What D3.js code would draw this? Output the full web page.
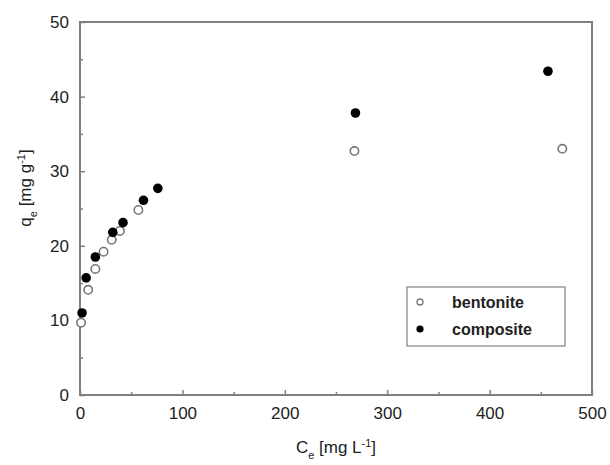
<!DOCTYPE html>
<html>
<head>
<meta charset="utf-8">
<script src="https://cdn.jsdelivr.net/npm/d3@7"></script>
<style>
  body { margin: 0; background: #fff; }
  text { font-family: "Liberation Sans", Arial, sans-serif; fill: #222; }
</style>
</head>
<body>
<svg id="chart"></svg>
<script>
// isotherm data
let bentoniteCe = [1, 8, 15, 23, 31, 39, 57, 268, 471];
let bentoniteQe = [9.7, 14.1, 16.9, 19.2, 20.8, 22.0, 24.8, 32.7, 33.0];
let compositeCe = [2, 6, 15, 32, 42, 62, 76, 269, 457];
let compositeQe = [11.0, 15.7, 18.5, 21.8, 23.1, 26.1, 27.7, 37.8, 43.4];

let xTicks = [0, 100, 200, 300, 400, 500];
let xMinor = [50, 150, 250, 350, 450];
let yTicks = [0, 10, 20, 30, 40, 50];
let yMinor = [5, 15, 25, 35, 45];

let seriesNames = ["bentonite", "composite"];

function draw() {
    let width = 610;
    let height = 465;

    let paddingLeft = 80;
    let paddingRight = 18;
    let paddingTop = 22;
    let paddingBottom = 70;

    let svg = d3.select("#chart")
        .attr("width", width)
        .attr("height", height);

    let xScale = d3.scaleLinear()
        .domain([0, 500])
        .range([paddingLeft, width - paddingRight]);

    let yScale = d3.scaleLinear()
        .domain([0, 50])
        .range([height - paddingBottom, paddingTop]);

    let axisColor = "#808080";

    // major ticks, pointing inward
    let xAxis = d3.axisBottom(xScale)
        .tickValues(xTicks)
        .tickSizeInner(-5)
        .tickSizeOuter(0)
        .tickPadding(12);

    let yAxis = d3.axisLeft(yScale)
        .tickValues(yTicks)
        .tickSizeInner(-5)
        .tickSizeOuter(0)
        .tickPadding(11);

    let gx = svg.append("g")
        .attr("transform", "translate(0," + yScale(0) + ")")
        .call(xAxis);

    let gy = svg.append("g")
        .attr("transform", "translate(" + xScale(0) + ",0)")
        .call(yAxis);

    // minor ticks
    svg.append("g")
        .attr("transform", "translate(0," + yScale(0) + ")")
        .call(d3.axisBottom(xScale).tickValues(xMinor).tickSizeInner(-3).tickSizeOuter(0).tickFormat(""));

    svg.append("g")
        .attr("transform", "translate(" + xScale(0) + ",0)")
        .call(d3.axisLeft(yScale).tickValues(yMinor).tickSizeInner(-3).tickSizeOuter(0).tickFormat(""));

    svg.selectAll(".domain").remove();
    svg.selectAll(".tick line")
        .attr("stroke", axisColor)
        .attr("stroke-width", 1.5);

    gx.selectAll("text")
        .style("font-size", "17px")
        .attr("fill", "#333");
    gy.selectAll("text")
        .style("font-size", "17px")
        .attr("fill", "#333");

    // frame
    svg.append("rect")
        .attr("x", xScale(0))
        .attr("y", yScale(50))
        .attr("width", xScale(500) - xScale(0))
        .attr("height", yScale(0) - yScale(50))
        .attr("fill", "none")
        .attr("stroke", axisColor)
        .attr("stroke-width", 2);

    // points
    let bentonite = bentoniteCe.map((c, i) => ({ x: c, y: bentoniteQe[i] }));
    let composite = compositeCe.map((c, i) => ({ x: c, y: compositeQe[i] }));

    svg.append("g").selectAll("circle")
        .data(bentonite)
        .enter()
        .append("circle")
        .attr("cx", d => xScale(d.x))
        .attr("cy", d => yScale(d.y))
        .attr("r", 4.2)
        .attr("fill", "#fff")
        .attr("stroke", "#777")
        .attr("stroke-width", 1.6);

    svg.append("g").selectAll("circle")
        .data(composite)
        .enter()
        .append("circle")
        .attr("cx", d => xScale(d.x))
        .attr("cy", d => yScale(d.y))
        .attr("r", 4.8)
        .attr("fill", "#000");

    // legend
    let legend = svg.append("g");
    legend.append("rect")
        .attr("x", 407)
        .attr("y", 287)
        .attr("width", 158)
        .attr("height", 59)
        .attr("fill", "#fff")
        .attr("stroke", axisColor)
        .attr("stroke-width", 1.2);

    seriesNames.forEach((name, i) => {
        let ly = 302 + i * 27;
        let c = legend.append("circle")
            .attr("cx", 420)
            .attr("cy", ly)
            .attr("r", i == 0 ? 3 : 3.6);
        if (i == 0) {
            c.attr("fill", "#fff").attr("stroke", "#777").attr("stroke-width", 1.3);
        } else {
            c.attr("fill", "#000");
        }
        legend.append("text")
            .attr("x", 452)
            .attr("y", ly)
            .attr("dy", "0.35em")
            .style("font-size", "16px")
            .style("font-weight", "bold")
            .text(name);
    });

    // axis titles
    let xTitle = svg.append("text")
        .attr("x", (xScale(0) + xScale(500)) / 2)
        .attr("y", 453)
        .attr("text-anchor", "middle")
        .style("font-size", "17px");
    xTitle.append("tspan").text("C");
    xTitle.append("tspan").attr("baseline-shift", "sub").style("font-size", "11px").text("e");
    xTitle.append("tspan").text(" [mg L");
    xTitle.append("tspan").attr("baseline-shift", "super").style("font-size", "11px").text("-1");
    xTitle.append("tspan").text("]");

    let yTitle = svg.append("text")
        .attr("transform", "translate(31,188) rotate(-90)")
        .attr("text-anchor", "middle")
        .style("font-size", "17px");
    yTitle.append("tspan").text("q");
    yTitle.append("tspan").attr("baseline-shift", "sub").style("font-size", "11px").text("e");
    yTitle.append("tspan").text(" [mg g");
    yTitle.append("tspan").attr("baseline-shift", "super").style("font-size", "11px").text("-1");
    yTitle.append("tspan").text("]");
}

draw();
</script>
</body>
</html>
